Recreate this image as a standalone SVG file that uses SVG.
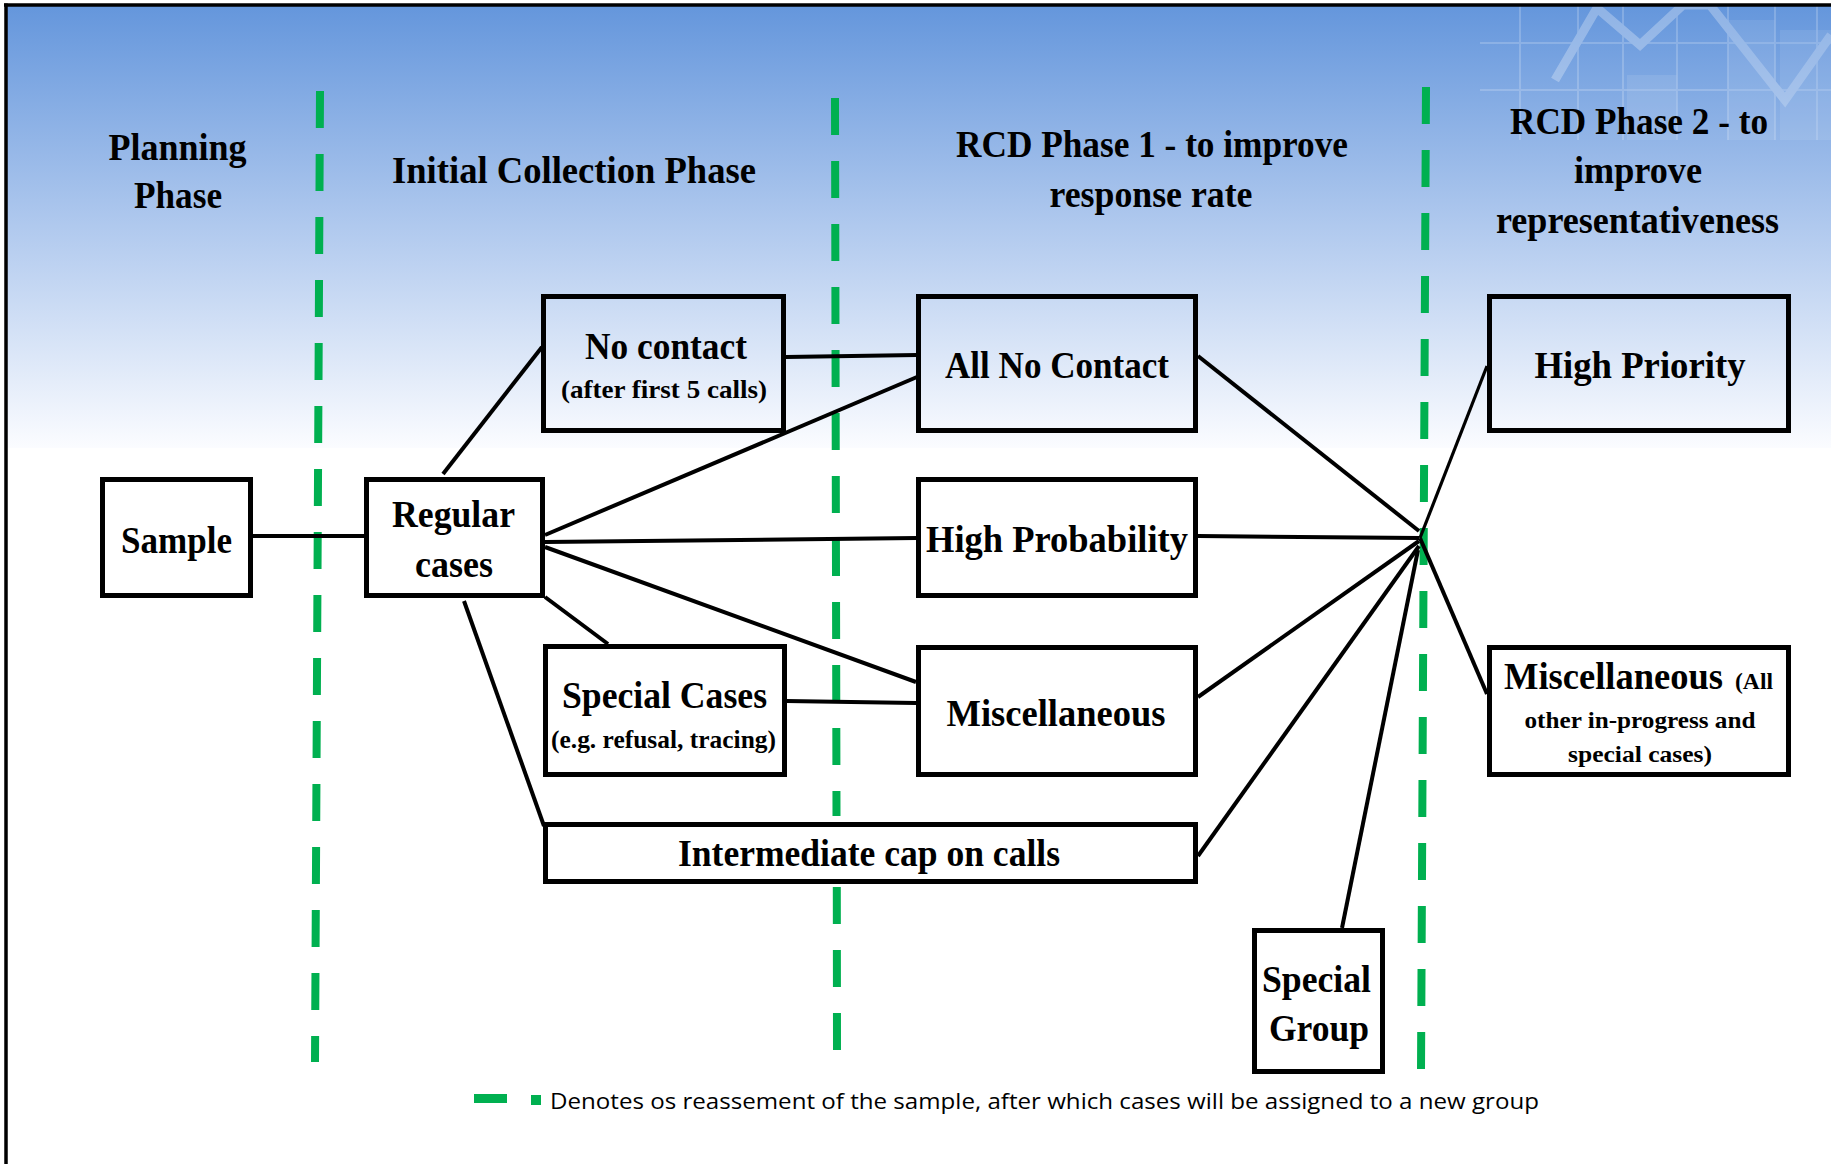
<svg xmlns="http://www.w3.org/2000/svg" width="1831" height="1164" viewBox="0 0 1831 1164">
  <defs>
    <linearGradient id="bg" x1="0" y1="0" x2="0" y2="1">
      <stop offset="0" stop-color="#6496dc"/>
      <stop offset="0.5" stop-color="#b0c9ee"/>
      <stop offset="1" stop-color="#fbfcff"/>
    </linearGradient>
    <style>
      .box { fill: none; stroke: #000; stroke-width: 5; }
      .hdr { font-family: "Liberation Serif", "Times New Roman", serif; font-weight: bold; font-size: 38px; fill: #000; }
      .lbl { font-family: "Liberation Serif", "Times New Roman", serif; font-weight: bold; font-size: 37px; fill: #000; }
      .sm { font-family: "Liberation Serif", "Times New Roman", serif; font-weight: bold; font-size: 25px; fill: #000; }
      .sm2 { font-family: "Liberation Serif", "Times New Roman", serif; font-weight: bold; font-size: 23px; fill: #000; }
      .con { stroke: #000; stroke-width: 4; fill: none; stroke-linecap: butt; }
      .thin { stroke-width: 3.2; }
      .div { stroke: #00b050; stroke-width: 8; stroke-dasharray: 37 26; fill: none; }
      .deco { stroke: #ffffff; fill: none; }
      .legend { font-family: "Open Sans", "Liberation Sans", sans-serif; font-size: 22px; fill: #000; }
    </style>
  </defs>

  <!-- background -->
  <rect x="0" y="0" width="1831" height="1164" fill="#ffffff"/>
  <rect x="6" y="5" width="1825" height="443" fill="url(#bg)"/>

  <!-- faint decorative chart, top right -->
  <g id="decoration" opacity="0.28">
    <rect x="1627" y="75" width="50" height="65" fill="#ffffff" opacity="0.35"/>
    <rect x="1728" y="20" width="47" height="120" fill="#ffffff" opacity="0.3"/>
    <rect x="1780" y="30" width="51" height="110" fill="#ffffff" opacity="0.3"/>
    <g class="deco" stroke-width="2" opacity="0.7">
      <line x1="1520" y1="5" x2="1520" y2="140"/>
      <line x1="1578" y1="5" x2="1578" y2="140"/>
      <line x1="1623" y1="5" x2="1623" y2="140"/>
      <line x1="1677" y1="5" x2="1677" y2="140"/>
      <line x1="1728" y1="5" x2="1728" y2="140"/>
      <line x1="1775" y1="5" x2="1775" y2="140"/>
      <line x1="1817" y1="5" x2="1817" y2="140"/>
      <line x1="1480" y1="43" x2="1831" y2="43"/>
      <line x1="1480" y1="90" x2="1831" y2="90"/>
    </g>
    <polyline class="deco" stroke-width="9" points="1555,80 1597,8 1640,45 1683,5 1710,5 1785,100 1831,35"/>
  </g>

  <!-- frame -->
  <g id="frame" stroke="#000" stroke-width="3.5">
    <line x1="6" y1="3.5" x2="6" y2="1164"/>
    <line x1="4" y1="5" x2="1831" y2="5"/>
  </g>

  <!-- phase dividers -->
  <g id="phase-dividers">
    <line class="div" x1="320" y1="91" x2="315" y2="1062"/>
    <line class="div" x1="835" y1="98" x2="836.5" y2="816"/>
    <line class="div" x1="836.8" y1="887" x2="837" y2="1050"/>
    <line class="div" x1="1426" y1="87" x2="1421" y2="1071"/>
  </g>

  <!-- phase headers -->
  <g id="headers">
    <text class="hdr" x="108.5" y="160" textLength="138" lengthAdjust="spacingAndGlyphs">Planning</text>
    <text class="hdr" x="134" y="208" textLength="88" lengthAdjust="spacingAndGlyphs">Phase</text>
    <text class="hdr" x="392" y="183" textLength="364" lengthAdjust="spacingAndGlyphs">Initial Collection Phase</text>
    <text class="hdr" x="956" y="157" textLength="392" lengthAdjust="spacingAndGlyphs">RCD Phase 1 - to improve</text>
    <text class="hdr" x="1049.5" y="207" textLength="203" lengthAdjust="spacingAndGlyphs">response rate</text>
    <text class="hdr" x="1510" y="134" textLength="258" lengthAdjust="spacingAndGlyphs">RCD Phase 2 - to</text>
    <text class="hdr" x="1574" y="183" textLength="128" lengthAdjust="spacingAndGlyphs">improve</text>
    <text class="hdr" x="1496" y="233" textLength="283" lengthAdjust="spacingAndGlyphs">representativeness</text>
  </g>

  <!-- connectors -->
  <g id="connectors">
    <line class="con" x1="253" y1="536" x2="365" y2="536" stroke-width="5"/>
    <line class="con" x1="443" y1="474" x2="542" y2="347"/>
    <line class="con" x1="786" y1="357" x2="917" y2="355"/>
    <line class="con" x1="545" y1="535" x2="917" y2="377"/>
    <line class="con" x1="545" y1="542" x2="917" y2="538"/>
    <line class="con" x1="545" y1="547" x2="916" y2="682"/>
    <line class="con" x1="545" y1="597" x2="608" y2="644"/>
    <line class="con" x1="464" y1="601" x2="544" y2="826"/>
    <line class="con" x1="786" y1="701" x2="916" y2="703"/>
    <line class="con" x1="1198" y1="356" x2="1419" y2="531"/>
    <line class="con" x1="1198" y1="536" x2="1419" y2="538"/>
    <line class="con" x1="1198" y1="697" x2="1419" y2="541"/>
    <line class="con" x1="1198" y1="856" x2="1419" y2="546"/>
    <line class="con" x1="1342" y1="928" x2="1418" y2="550"/>
    <line class="con thin" x1="1420" y1="538" x2="1487" y2="366"/>
    <line class="con" x1="1420" y1="538" x2="1487" y2="694"/>
  </g>

  <!-- nodes -->
  <g id="node-sample">
    <rect class="box" x="102.5" y="479.5" width="148" height="116"/>
    <text class="lbl" x="121" y="553" textLength="111" lengthAdjust="spacingAndGlyphs">Sample</text>
  </g>
  <g id="node-regular-cases">
    <rect class="box" x="366.5" y="479.5" width="176" height="116"/>
    <text class="lbl" x="392" y="527" textLength="123" lengthAdjust="spacingAndGlyphs">Regular</text>
    <text class="lbl" x="415" y="577" textLength="78" lengthAdjust="spacingAndGlyphs">cases</text>
  </g>
  <g id="node-no-contact">
    <rect class="box" x="543.5" y="296.5" width="240" height="134"/>
    <text class="lbl" x="585" y="359" textLength="162" lengthAdjust="spacingAndGlyphs">No contact</text>
    <text class="sm" x="561" y="398" textLength="206" lengthAdjust="spacingAndGlyphs">(after first 5 calls)</text>
  </g>
  <g id="node-special-cases">
    <rect class="box" x="545.5" y="646.5" width="239" height="128"/>
    <text class="lbl" x="562" y="708" textLength="205" lengthAdjust="spacingAndGlyphs">Special Cases</text>
    <text class="sm" x="551" y="748" textLength="225" lengthAdjust="spacingAndGlyphs">(e.g. refusal, tracing)</text>
  </g>
  <g id="node-intermediate-cap">
    <rect class="box" x="545.5" y="824.5" width="650" height="57"/>
    <text class="lbl" x="678" y="866" textLength="382" lengthAdjust="spacingAndGlyphs">Intermediate cap on calls</text>
  </g>
  <g id="node-all-no-contact">
    <rect class="box" x="918.5" y="296.5" width="277" height="134"/>
    <text class="lbl" x="945" y="378" textLength="224" lengthAdjust="spacingAndGlyphs">All No Contact</text>
  </g>
  <g id="node-high-probability">
    <rect class="box" x="918.5" y="479.5" width="277" height="116"/>
    <text class="lbl" x="926" y="552" textLength="262" lengthAdjust="spacingAndGlyphs">High Probability</text>
  </g>
  <g id="node-miscellaneous">
    <rect class="box" x="918.5" y="647.5" width="277" height="127"/>
    <text class="lbl" x="946.5" y="726" textLength="219" lengthAdjust="spacingAndGlyphs">Miscellaneous</text>
  </g>
  <g id="node-high-priority">
    <rect class="box" x="1489.5" y="296.5" width="299" height="134"/>
    <text class="lbl" x="1534.5" y="378" textLength="211" lengthAdjust="spacingAndGlyphs">High Priority</text>
  </g>
  <g id="node-miscellaneous-all">
    <rect class="box" x="1489.5" y="647.5" width="299" height="127"/>
    <text class="lbl" x="1504" y="689" font-size="35" textLength="219" lengthAdjust="spacingAndGlyphs">Miscellaneous</text>
    <text class="sm2" x="1735" y="689" textLength="38" lengthAdjust="spacingAndGlyphs">(All</text>
    <text class="sm2" x="1524.5" y="728" textLength="231" lengthAdjust="spacingAndGlyphs">other in-progress and</text>
    <text class="sm2" x="1568" y="762" textLength="144" lengthAdjust="spacingAndGlyphs">special cases)</text>
  </g>
  <g id="node-special-group">
    <rect class="box" x="1254.5" y="930.5" width="128" height="141"/>
    <text class="lbl" x="1262" y="992" textLength="109" lengthAdjust="spacingAndGlyphs">Special</text>
    <text class="lbl" x="1269" y="1041" textLength="100" lengthAdjust="spacingAndGlyphs">Group</text>
  </g>

  <!-- legend -->
  <g id="legend">
    <rect x="474" y="1094" width="33" height="9" fill="#00b050"/>
    <rect x="531" y="1095" width="10" height="10" fill="#00b050"/>
    <text class="legend" x="550" y="1109" textLength="989" lengthAdjust="spacingAndGlyphs">Denotes os reassement of the sample, after which cases will be assigned to a new group</text>
  </g>
</svg>
